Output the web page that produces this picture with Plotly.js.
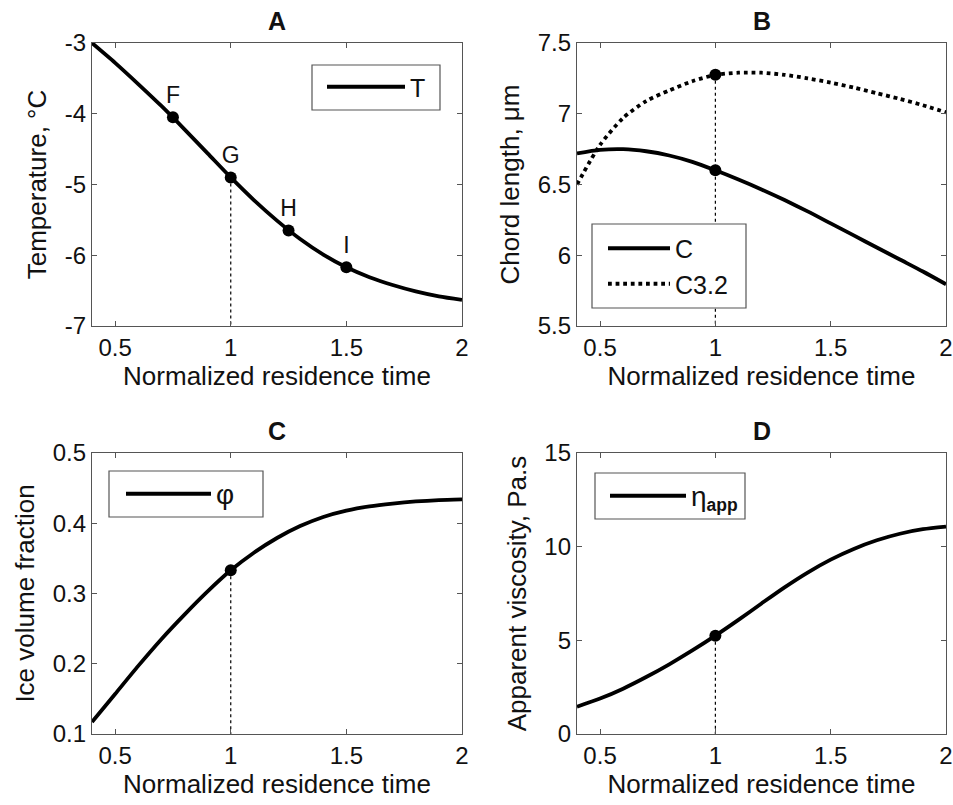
<!DOCTYPE html>
<html>
<head>
<meta charset="utf-8">
<script src="https://cdn.plot.ly/plotly-3.0.1.min.js"></script>
<style>html,body{margin:0;padding:0;background:#fff;}#chart{width:953px;height:805px;}</style>
</head>
<body>
<div id="chart"></div>
<script>
// ---- data ----
const timeGrid = [0.4,0.5,0.6,0.7,0.8,0.9,1.0,1.1,1.2,1.3,1.4,1.5,1.6,1.7,1.8,1.9,2.0];
const temperatureT = [-3.00,-3.28,-3.58,-3.89,-4.22,-4.56,-4.90,-5.22,-5.51,-5.77,-5.99,-6.17,-6.31,-6.42,-6.51,-6.58,-6.63];
const chordC = [6.72,6.745,6.75,6.735,6.705,6.66,6.60,6.535,6.465,6.39,6.31,6.225,6.14,6.055,5.97,5.885,5.795];
const chordC32 = [6.50,6.78,6.97,7.09,7.165,7.23,7.275,7.29,7.29,7.275,7.25,7.22,7.185,7.145,7.105,7.06,7.01];
const iceFraction = [0.117,0.157,0.197,0.235,0.270,0.303,0.333,0.358,0.379,0.396,0.409,0.418,0.424,0.428,0.431,0.433,0.434];
const viscosity = [1.46,1.89,2.42,3.04,3.72,4.46,5.25,6.09,6.97,7.83,8.62,9.31,9.88,10.34,10.69,10.93,11.07];

const pointTimesA = [0.75,1.0,1.25,1.5];
const pointTempA = [-4.05,-4.90,-5.65,-6.17];
const pointLabelsA = ['F','G','H','I'];
const refTime = [1.0];
const refChordC = [6.60];
const refChordC32 = [7.275];
const refIce = [0.333];
const refVisc = [5.25];

const xTicks = [0.5,1,1.5,2];
const xTickText = ['0.5','1','1.5','2'];
const yTicksA = [-7,-6,-5,-4,-3];
const yTickTextA = ['-7','-6','-5','-4','-3'];
const yTicksB = [5.5,6,6.5,7,7.5];
const yTickTextB = ['5.5','6','6.5','7','7.5'];
const yTicksC = [0.1,0.2,0.3,0.4,0.5];
const yTickTextC = ['0.1','0.2','0.3','0.4','0.5'];
const yTicksD = [0,5,10,15];
const yTickTextD = ['0','5','10','15'];

const legendNames = ['T','C','C3.2','<span style="font-size:28px">φ</span>','<span style="font-size:28px">η</span><sub><b>app</b></sub>'];
const panelTitles = ['A','B','C','D'];
const axisTitlesY = ['Temperature, °C','Chord length, μm','Ice volume fraction','Apparent viscosity, Pa.s'];
const axisTitleX = 'Normalized residence time';

// ---- styling ----
const FONT = '"Liberation Sans", Arial, Helvetica, sans-serif';
const INK = '#000';
const TXT = '#111';
const FRAME = '#555';
const LW = 3.8;
const W = 953, H = 805;

function mainLine(x, y, xa, ya, name, legend, dash) {
  return {x: x, y: y, xaxis: xa, yaxis: ya, name: name, legend: legend, mode: 'lines',
    line: {color: INK, width: LW, shape: 'spline', smoothing: 0.7, dash: dash || 'solid'},
    showlegend: true, hoverinfo: 'skip'};
}
function refMarker(x, y, xa, ya, text) {
  const t = {x: x, y: y, xaxis: xa, yaxis: ya, mode: text ? 'markers+text' : 'markers',
    marker: {color: INK, size: 12}, showlegend: false, hoverinfo: 'skip'};
  if (text) { t.text = text; t.textposition = 'top center'; t.textfont = {family: FONT, size: 23, color: TXT}; }
  return t;
}
function dropLine(xv, yTop, yBottom, xa, ya) {
  return {x: [xv, xv], y: [yTop, yBottom], xaxis: xa, yaxis: ya, mode: 'lines',
    line: {color: INK, width: 1.2, dash: 'dot'}, showlegend: false, hoverinfo: 'skip'};
}

const yRanges = [[-7,-3],[5.5,7.5],[0.1,0.5],[0,15]];

const traces = [
  dropLine(refTime[0], pointTempA[1], yRanges[0][0], 'x', 'y'),
  mainLine(timeGrid, temperatureT, 'x', 'y', legendNames[0], 'legend'),
  refMarker(pointTimesA, pointTempA, 'x', 'y', pointLabelsA),

  dropLine(refTime[0], refChordC32[0], yRanges[1][0], 'x2', 'y2'),
  mainLine(timeGrid, chordC, 'x2', 'y2', legendNames[1], 'legend2'),
  mainLine(timeGrid, chordC32, 'x2', 'y2', legendNames[2], 'legend2', 'dot'),
  refMarker(refTime, refChordC, 'x2', 'y2'),
  refMarker(refTime, refChordC32, 'x2', 'y2'),

  dropLine(refTime[0], refIce[0], yRanges[2][0], 'x3', 'y3'),
  mainLine(timeGrid, iceFraction, 'x3', 'y3', legendNames[3], 'legend3'),
  refMarker(refTime, refIce, 'x3', 'y3'),

  dropLine(refTime[0], refVisc[0], yRanges[3][0], 'x4', 'y4'),
  mainLine(timeGrid, viscosity, 'x4', 'y4', legendNames[4], 'legend4'),
  refMarker(refTime, refVisc, 'x4', 'y4')
];

const colL = [92/W, 462/W], colR = [577/W, 946/W];
const rowT = [1-326/H, 1-43/H], rowB = [1-734/H, 1-453/H];

function xAxis(domain, anchor) {
  return {domain: domain, anchor: anchor, range: [0.4, 2], tickvals: xTicks, ticktext: xTickText,
    showline: true, mirror: 'ticks', linecolor: FRAME, linewidth: 1.2, ticks: 'inside', ticklen: 5,
    tickcolor: FRAME, showgrid: false, zeroline: false,
    tickfont: {family: FONT, size: 24, color: TXT},
    title: {text: axisTitleX, font: {family: FONT, size: 26, color: TXT}, standoff: 6}};
}
function yAxis(domain, anchor, range, tickvals, ticktext, title) {
  return {domain: domain, anchor: anchor, range: range, tickvals: tickvals, ticktext: ticktext,
    showline: true, mirror: 'ticks', linecolor: FRAME, linewidth: 1.2, ticks: 'inside', ticklen: 5,
    tickcolor: FRAME, showgrid: false, zeroline: false,
    tickfont: {family: FONT, size: 24, color: TXT},
    title: {text: title, font: {family: FONT, size: 26, color: TXT}, standoff: 10}};
}
// legend entries from Plotly; frame drawn as a white box underneath
function legendEntries(xPx, yPx, itemwidth) {
  return {x: xPx / W, y: 1 - yPx / H, xanchor: 'left', yanchor: 'middle',
    bgcolor: 'rgba(0,0,0,0)', borderwidth: 0,
    font: {family: FONT, size: 25, color: TXT}, itemwidth: itemwidth, tracegroupgap: 0,
    itemclick: false, itemdoubleclick: false};
}
function legendFrame(x0, y0, x1, y1) {
  return {type: 'rect', xref: 'paper', yref: 'paper', x0: x0 / W, x1: x1 / W, y0: 1 - y1 / H, y1: 1 - y0 / H,
    line: {color: FRAME, width: 1.2}, fillcolor: '#fff', layer: 'above'};
}
function panelTitle(text, xref, yref) {
  return {text: '<b>' + text + '</b>', xref: xref + ' domain', yref: yref + ' domain', x: 0.5, y: 1,
    xanchor: 'center', yanchor: 'bottom', yshift: 6, showarrow: false,
    font: {family: FONT, size: 25, color: TXT}};
}

const layout = {
  width: W, height: H, margin: {l: 0, r: 0, t: 0, b: 0},
  paper_bgcolor: '#fff', plot_bgcolor: '#fff',
  font: {family: FONT, color: TXT},
  xaxis: xAxis(colL, 'y'), yaxis: yAxis(rowT, 'x', yRanges[0], yTicksA, yTickTextA, axisTitlesY[0]),
  xaxis2: xAxis(colR, 'y2'), yaxis2: yAxis(rowT, 'x2', yRanges[1], yTicksB, yTickTextB, axisTitlesY[1]),
  xaxis3: xAxis(colL, 'y3'), yaxis3: yAxis(rowB, 'x3', yRanges[2], yTicksC, yTickTextC, axisTitlesY[2]),
  xaxis4: xAxis(colR, 'y4'), yaxis4: yAxis(rowB, 'x4', yRanges[3], yTicksD, yTickTextD, axisTitlesY[3]),
  legend: legendEntries(322, 87, 78),
  legend2: legendEntries(603, 266, 62),
  legend3: legendEntries(121, 494, 85),
  legend4: legendEntries(605, 496, 76),
  shapes: [
    legendFrame(312, 65, 440, 110),
    legendFrame(592, 224, 746, 308),
    legendFrame(109, 471, 263, 517),
    legendFrame(595, 473, 745, 519)
  ],
  annotations: [
    panelTitle(panelTitles[0], 'x', 'y'),
    panelTitle(panelTitles[1], 'x2', 'y2'),
    panelTitle(panelTitles[2], 'x3', 'y3'),
    panelTitle(panelTitles[3], 'x4', 'y4')
  ],
  showlegend: true
};

Plotly.newPlot('chart', traces, layout, {staticPlot: true, displayModeBar: false});
</script>
</body>
</html>
